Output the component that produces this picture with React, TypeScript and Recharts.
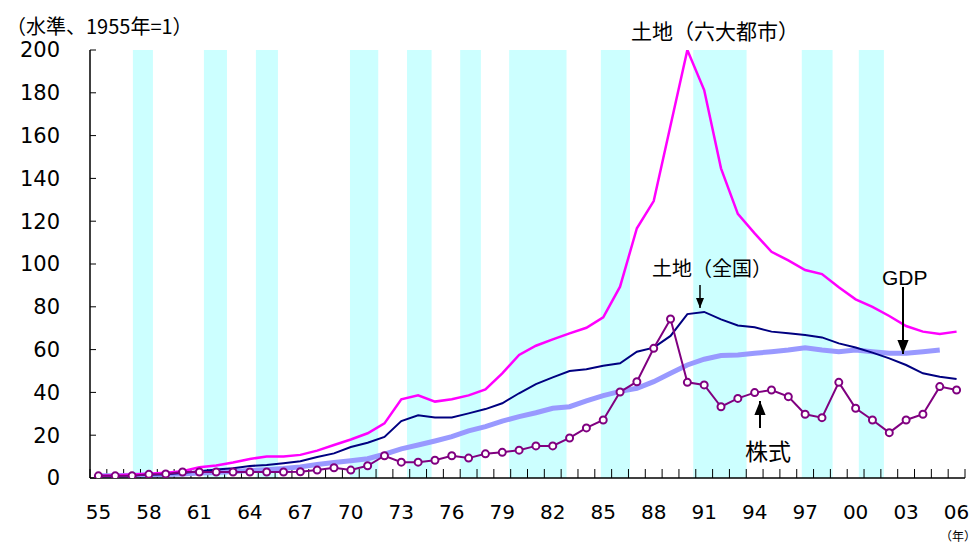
import { LineChart, Line, XAxis, YAxis, ReferenceArea, ReferenceLine } from "recharts"

const years = [
  1955, 1956, 1957, 1958, 1959, 1960, 1961, 1962, 1963, 1964, 1965, 1966, 1967,
  1968, 1969, 1970, 1971, 1972, 1973, 1974, 1975, 1976, 1977, 1978, 1979, 1980,
  1981, 1982, 1983, 1984, 1985, 1986, 1987, 1988, 1989, 1990, 1991, 1992, 1993,
  1994, 1995, 1996, 1997, 1998, 1999, 2000, 2001, 2002, 2003, 2004, 2005, 2006,
]

// 土地（六大都市）
const landSixCities = [
  1.0, 1.3, 1.6, 2.0, 2.5, 3.2, 5.0, 5.8, 7.2, 8.9, 10.0, 10.0, 10.8,
  12.8, 15.4, 18.0, 20.9, 25.5, 36.8, 38.6, 35.7, 36.8, 38.6, 41.4, 48.9, 57.5,
  61.8, 64.8, 67.6, 70.2, 75.1, 89.4, 116.7, 129.4, 164.7, 200.0, 181.3, 144.7, 123.4,
  114.3, 105.7, 101.7, 97.2, 95.3, 89.1, 83.5, 80.0, 75.7, 71.0, 68.4, 67.3, 68.4,
]

// 土地（全国）
const landNational = [
  1.0, 1.1, 1.3, 1.5, 1.8, 2.3, 3.1, 4.0, 4.6, 5.6, 6.1, 6.9, 7.8,
  9.8, 11.5, 14.5, 16.5, 19.2, 26.6, 29.3, 28.3, 28.3, 30.2, 32.2, 34.9, 39.6,
  43.9, 47.0, 50.0, 50.8, 52.5, 53.6, 59.0, 60.9, 66.4, 76.6, 77.6, 74.1, 71.3,
  70.4, 68.4, 67.6, 66.8, 65.7, 62.9, 61.0, 58.6, 55.9, 52.8, 48.9, 47.3, 46.3,
]

const gdp = [
  1.0, 1.1, 1.3, 1.4, 1.6, 1.9, 2.3, 2.6, 3.0, 3.5, 3.9, 4.4, 5.2,
  6.3, 7.2, 8.1, 9.0, 11.1, 13.6, 15.4, 17.3, 19.3, 22.0, 24.0, 26.6, 28.7,
  30.5, 32.6, 33.3, 36.0, 38.5, 40.5, 41.9, 45.0, 48.9, 52.8, 55.5, 57.2, 57.5,
  58.3, 59.0, 59.8, 60.9, 59.8, 59.0, 59.8, 59.0, 58.3, 58.3, 59.0, 59.8, null,
]

// 株式
const stocks = [
  1.0, 1.0, 1.0, 1.7, 1.9, 2.8, 2.8, 2.8, 2.8, 2.8, 2.8, 2.8, 2.9,
  3.7, 4.8, 3.7, 5.7, 10.4, 7.4, 7.4, 8.3, 10.4, 9.3, 11.3, 12.0, 13.0,
  15.0, 15.0, 18.7, 23.4, 27.1, 40.2, 45.0, 60.6, 74.3, 44.7, 43.5, 33.3, 37.2,
  39.9, 41.1, 38.0, 29.8, 28.2, 44.7, 32.6, 27.1, 21.2, 27.1, 29.8, 42.7, 41.1,
]

// shaded periods (景気後退期)
const bandStart = [1957.05, 1961.27, 1964.36, 1969.95, 1973.34, 1976.5, 1979.41, 1984.86, 1990.35, 1996.8, 2000.19]
const bandEnd = [1958.24, 1962.64, 1965.67, 1971.63, 1974.8, 1977.73, 1982.82, 1986.59, 1993.52, 1998.63, 2001.68]

const xTicks = [1955, 1958, 1961, 1964, 1967, 1970, 1973, 1976, 1979, 1982, 1985, 1988, 1991, 1994, 1997, 2000, 2003, 2006]
const yTicks = [0, 20, 40, 60, 80, 100, 120, 140, 160, 180, 200]

const data = years.map((year, i) => ({
  year,
  landSixCities: landSixCities[i],
  landNational: landNational[i],
  gdp: gdp[i],
  stocks: stocks[i],
}))

const tickMarks = [1954.5, ...years.map((y) => y + 0.5)]

const jp = "'Noto Sans CJK JP', sans-serif"
const tickStyle = { fontSize: 21, fill: "#000", fontFamily: "'DejaVu Sans', sans-serif" }

export default function App() {
  return (
    <div style={{ position: "absolute", left: 0, top: 0, width: 978, height: 543, background: "#fff", overflow: "hidden" }}>
      <LineChart width={978} height={543} data={data} margin={{ top: 50, right: 13, left: 0, bottom: 0 }}>
        {bandStart.map((s, i) => (
          <ReferenceArea key={i} x1={s} x2={bandEnd[i]} y1={0} y2={200} fill="#CCFFFF" fillOpacity={1} stroke="none" />
        ))}
        {tickMarks.map((t) => (
          <ReferenceLine key={t} segment={[{ x: t, y: 0 }, { x: t, y: 4.2 }]} stroke="#000" strokeWidth={1} />
        ))}
        <XAxis
          dataKey="year"
          type="number"
          domain={[1954.5, 2006.5]}
          ticks={xTicks}
          tickFormatter={(v) => String(v).slice(2)}
          tick={{ ...tickStyle, fontSize: 20 }}
          tickLine={false}
          tickSize={0}
          tickMargin={27}
          height={65}
          axisLine={{ stroke: "#000", strokeWidth: 1.5 }}
          interval={0}
        />
        <YAxis
          domain={[0, 200]}
          allowDataOverflow
          ticks={yTicks}
          tick={tickStyle}
          tickSize={-6}
          tickMargin={36}
          width={90}
          axisLine={{ stroke: "#000", strokeWidth: 1.5 }}
          tickLine={{ stroke: "#000" }}
          interval={0}
        />
        <Line dataKey="gdp" stroke="#9999FF" strokeWidth={5} dot={false} isAnimationActive={false} connectNulls={false} />
        <Line dataKey="landNational" stroke="#000080" strokeWidth={2} dot={false} isAnimationActive={false} />
        <Line dataKey="landSixCities" stroke="#FF00FF" strokeWidth={2.5} dot={false} isAnimationActive={false} />
        <Line
          dataKey="stocks"
          stroke="#800080"
          strokeWidth={2}
          dot={{ r: 3.5, stroke: "#800080", strokeWidth: 2, fill: "#fff" }}
          isAnimationActive={false}
        />
      </LineChart>
      <svg width={978} height={543} style={{ position: "absolute", left: 0, top: 0, pointerEvents: "none" }}>
        <defs>
          <marker id="ah" viewBox="0 0 10 10" refX="10" refY="5" markerWidth="7" markerHeight="7" orient="auto">
            <path d="M0,1 L10,5 L0,9 z" fill="#000" />
          </marker>
        </defs>
        <text x={6} y={34} fontSize={20} fontFamily={jp} fill="#000">（水準、1955年=1）</text>
        <text x={631} y={39} fontSize={21} fontFamily={jp} fill="#000">土地（六大都市）</text>
        <text x={652} y={276} fontSize={20} fontFamily={jp} fill="#000">土地（全国）</text>
        <line x1={700} y1={285} x2={700} y2={308} stroke="#000" strokeWidth={1.5} markerEnd="url(#ah)" />
        <text x={882} y={285} fontSize={21} fontFamily="'Liberation Sans', Arial, sans-serif" fill="#000">GDP</text>
        <line x1={903} y1={287} x2={903} y2={354} stroke="#000" strokeWidth={2} markerEnd="url(#ah)" />
        <text x={745} y={460} fontSize={23} fontFamily={jp} fill="#000">株式</text>
        <line x1={760} y1={428} x2={760} y2={401} stroke="#000" strokeWidth={2} markerEnd="url(#ah)" />
        <text x={976} y={541} fontSize={12} fontFamily={jp} fill="#000" textAnchor="end">（年）</text>
      </svg>
    </div>
  )
}
